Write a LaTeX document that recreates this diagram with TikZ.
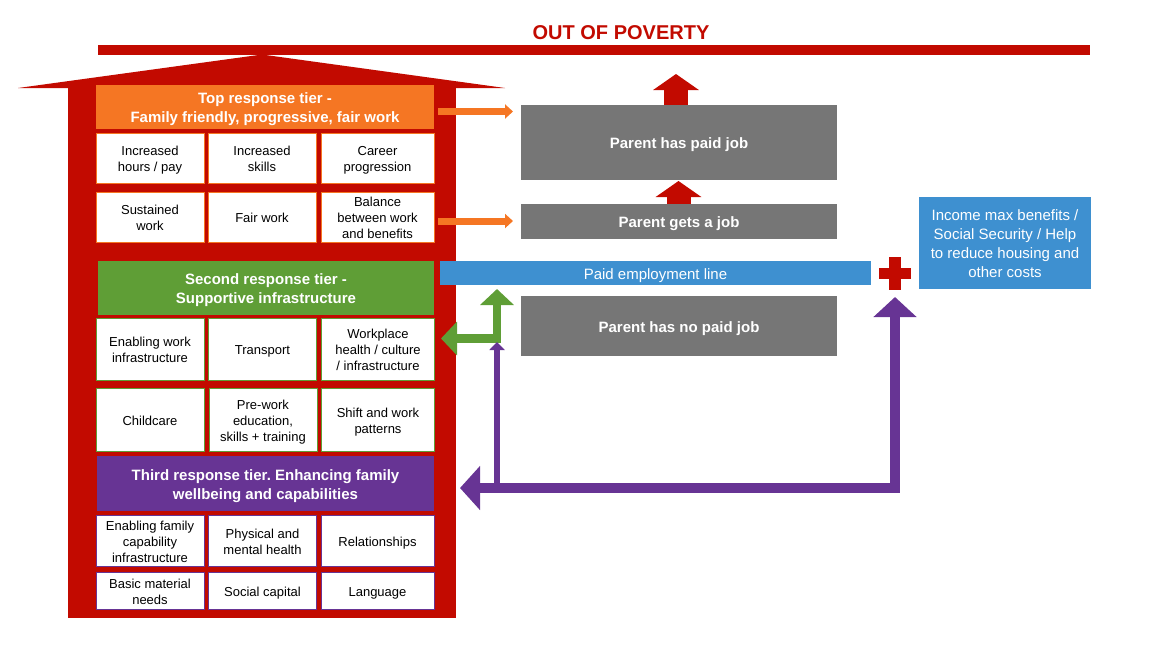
\documentclass[tikz,border=0pt]{standalone}
\usepackage{fontspec}
\setmainfont{Liberation Sans}
\usetikzlibrary{arrows.meta}
\frenchspacing
\definecolor{hred}{RGB}{194,10,0}
\definecolor{horange}{RGB}{245,118,35}
\definecolor{hgreen}{RGB}{95,158,54}
\definecolor{hpurple}{RGB}{103,52,148}
\definecolor{hgray}{RGB}{118,118,118}
\definecolor{hblue}{RGB}{62,144,208}
\newcommand\tx[1]{\raisebox{-2.5pt}[\height][\depth]{\begin{tabular}{@{}c@{}}#1\end{tabular}}}
\begin{document}
\begin{tikzpicture}[x=1pt,y=-1pt,
  cell/.style={draw,fill=white,line width=1pt,inner sep=0pt,
    font=\fontsize{13}{16}\selectfont},
  ocell/.style={cell,draw=horange},
  gcell/.style={cell,draw=hgreen},
  pcell/.style={cell,draw=hpurple},
  header/.style={inner sep=0pt,text=white,
    font=\bfseries\fontsize{15}{19}\selectfont},
  graybox/.style={fill=hgray,inner sep=0pt,text=white,
    minimum width=316pt,font=\bfseries\fontsize{15}{18}\selectfont},
  oarrow/.style={draw=horange,line width=7pt,-{Triangle[length=8pt,width=14pt]}},
  rarrow/.style={draw=hred,line width=24pt,-{Triangle[length=16pt,width=45pt]}},
  garrow/.style={draw=hgreen,line width=8.5pt,line join=miter,
    {Triangle[length=16pt,width=33pt]}-{Triangle[length=16pt,width=33pt]}},
  parrow/.style={draw=hpurple,line width=10pt,line join=miter,
    {Triangle[length=20pt,width=43pt]}-{Triangle[length=20pt,width=42pt]}},
  psmall/.style={draw=hpurple,line width=6.5pt,-{Triangle[length=8pt,width=15pt]}}
]
\useasboundingbox (0,0) rectangle (1152,657);

% title and bar
\node[text=hred,font=\bfseries\fontsize{20}{24}\selectfont,inner sep=0pt] (title) at (621,32.5) {OUT OF POVERTY};
\fill[hred] (98,45) rectangle (1090,54.5);

% house
\fill[hred] (18,88) -- (262,54.5) -- (505,88) -- cycle;
\fill[hred] (68,88) rectangle (456,618);

% top tier
\node[header,fill=horange,minimum width=338pt,minimum height=44pt] (top) at (265,107)
  {\tx{Top response tier -\\Family friendly, progressive, fair work}};
\node[ocell,minimum width=108pt,minimum height=50pt] (o11) at (150,158) {\tx{Increased\\hours / pay}};
\node[ocell,minimum width=108pt,minimum height=50pt] (o12) at (262,158) {\tx{Increased\\skills}};
\node[ocell,minimum width=113pt,minimum height=50pt] (o13) at (377.5,158) {\tx{Career\\progression}};
\node[ocell,minimum width=108pt,minimum height=50pt] (o21) at (150,217) {\tx{Sustained\\work}};
\node[ocell,minimum width=108pt,minimum height=50pt] (o22) at (262,217) {\tx{Fair work}};
\node[ocell,minimum width=113pt,minimum height=50pt] (o23) at (377.5,217) {\tx{Balance\\between work\\and benefits}};

% second tier
\node[header,fill=hgreen,minimum width=336pt,minimum height=54pt] (second) at (266,288)
  {\tx{Second response tier -\\Supportive infrastructure}};
\node[gcell,minimum width=108pt,minimum height=62pt] (g11) at (150,349) {\tx{Enabling work\\infrastructure}};
\node[gcell,minimum width=108pt,minimum height=62pt] (g12) at (262.5,349) {\tx{Transport}};
\node[gcell,minimum width=113pt,minimum height=62pt] (g13) at (378,349) {\tx{Workplace\\health / culture\\/ infrastructure}};
\node[gcell,minimum width=108pt,minimum height=63pt] (g21) at (150,419.5) {\tx{Childcare}};
\node[gcell,minimum width=108pt,minimum height=63pt] (g22) at (263,419.5) {\tx{Pre-work\\education,\\skills + training}};
\node[gcell,minimum width=113pt,minimum height=63pt] (g23) at (378,419.5) {\tx{Shift and work\\patterns}};

% third tier
\node[header,fill=hpurple,minimum width=337pt,minimum height=55pt] (third) at (265.5,483.5)
  {\tx{Third response tier. Enhancing family\\wellbeing and capabilities}};
\node[pcell,minimum width=108pt,minimum height=51pt] (p11) at (150,540.5) {\tx{Enabling family\\capability\\infrastructure}};
\node[pcell,minimum width=108pt,minimum height=51pt] (p12) at (262.5,540.5) {\tx{Physical and\\mental health}};
\node[pcell,minimum width=113pt,minimum height=51pt] (p13) at (377.5,540.5) {\tx{Relationships}};
\node[pcell,minimum width=108pt,minimum height=37pt] (p21) at (150,590.5) {\tx{Basic material\\needs}};
\node[pcell,minimum width=108pt,minimum height=37pt] (p22) at (262.5,590.5) {\tx{Social capital}};
\node[pcell,minimum width=113pt,minimum height=37pt] (p23) at (377.5,590.5) {\tx{Language}};

% gray outcome boxes
\node[graybox,minimum height=75pt] (paid) at (679,142.5) {\tx{Parent has paid job}};
\node[graybox,minimum height=35pt] (gets) at (679,221.5) {\tx{Parent gets a job}};
\node[graybox,minimum height=60pt] (nopaid) at (679,326) {\tx{Parent has no paid job}};

% paid employment line
\node[fill=hblue,text=white,inner sep=0pt,minimum width=431pt,minimum height=24pt,
  font=\fontsize{15}{18}\selectfont] (line) at (655.5,273) {\tx{Paid employment line}};

% right blue box
\node[fill=hblue,text=white,inner sep=0pt,minimum width=172pt,minimum height=92pt,
  font=\fontsize{15}{19}\selectfont] (income) at (1005,243)
  {\tx{Income max benefits /\\Social Security / Help\\to reduce housing and\\other costs}};

% red cross
\fill[hred] (889,257) rectangle (901,290);
\fill[hred] (879,268) rectangle (911,279);
\coordinate (cross) at (895,273.5);

% orange arrows
\coordinate (oa1s) at (438,111.5);
\coordinate (oa1e) at (513,111.5);
\coordinate (oa2s) at (438,221);
\coordinate (oa2e) at (513,221);
\draw[oarrow] (oa1s) -- (oa1e);
\draw[oarrow] (oa2s) -- (oa2e);

% red up arrows
\coordinate (ra1) at (676,74);
\coordinate (ra2) at (678.5,181);
\draw[rarrow] (paid.north -| ra1) -- (ra1);
\draw[rarrow] (gets.north -| ra2) -- (ra2);

% green elbow arrow
\coordinate (gtip) at (497,289);
\coordinate (gelbow) at (497,338.5);
\coordinate (gleft) at (441,338.5);
\draw[garrow] (gleft) -- (gelbow) -- (gtip);

% purple arrows
\coordinate (pleft) at (460,488);
\coordinate (pcorner) at (895,488);
\coordinate (ptop) at (895,297);
\draw[parrow] (pleft) -- (pcorner) -- (ptop);
\coordinate (psb) at (497,488);
\coordinate (pst) at (497,342);
\draw[psmall] (psb) -- (pst);
\end{tikzpicture}
\end{document}
